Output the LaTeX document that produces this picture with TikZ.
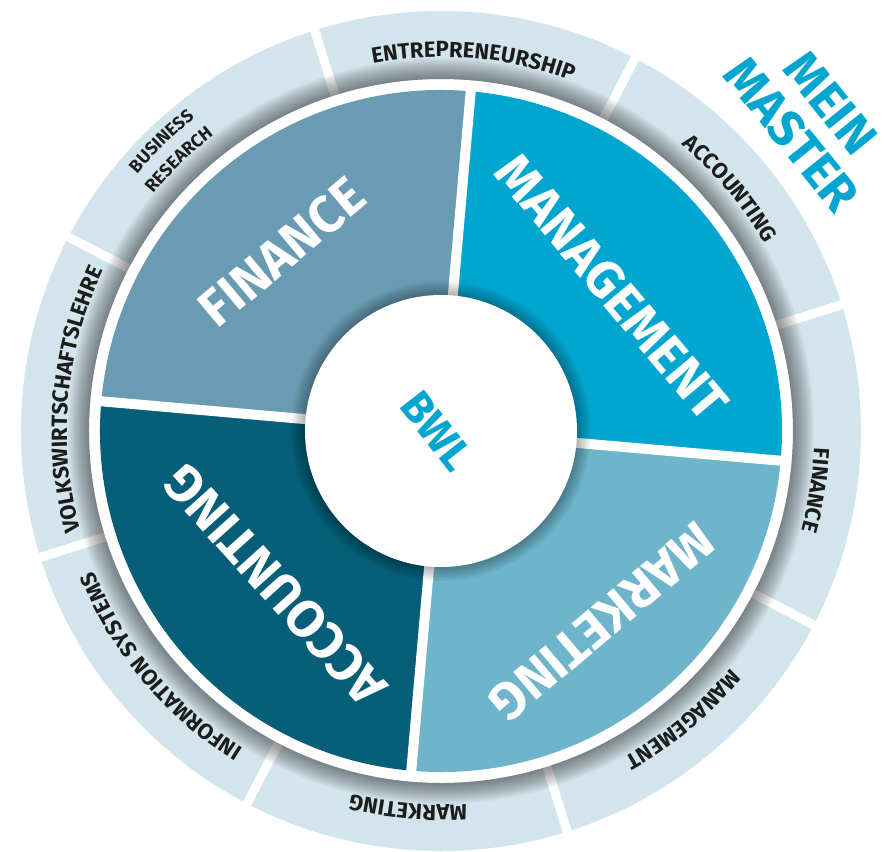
\documentclass[tikz,border=0pt]{standalone}
\usepackage{fontspec}
\setmainfont{Fira Sans}
\usetikzlibrary{decorations.text}
\definecolor{finc}{RGB}{105,156,179}
\definecolor{mgmt}{RGB}{0,166,208}
\definecolor{mkt}{RGB}{110,180,202}
\definecolor{acc}{RGB}{6,94,120}
\definecolor{ringc}{RGB}{211,229,236}
\definecolor{ringtxt}{RGB}{28,28,28}
\newcommand\ringfont{\fontsize{22}{22}\selectfont\bfseries\color{ringtxt}}
\newcommand\smallringfont{\fontsize{18}{18}\selectfont\bfseries\color{ringtxt}}
\tikzset{
  biglabel/.style={text=white, inner sep=0pt, font=\fontsize{52}{52}\selectfont\bfseries},
  bluelabel/.style={text=mgmt, inner sep=0pt, font=\fontsize{44}{44}\selectfont\bfseries},
  masterlabel/.style={text=mgmt, inner sep=0pt, align=center, font=\fontsize{50}{50}\selectfont\bfseries},
  gapline/.style={white, line width=9pt},
  sepline/.style={white, line width=10pt}
}
\begin{document}
\begin{tikzpicture}[x=1pt,y=1pt]
\useasboundingbox (-441,-421) rectangle (446,431);
\fill[white] (-441,-421) rectangle (446,431);
\coordinate (c) at (0,0);
% outer ring
\fill[ringc, even odd rule] (c) circle[radius=420] (c) circle[radius=352];
\foreach \a in {17.5,62.5,107.5,152.5,197.5,242.5,287.5,332.5}
  \draw[gapline] (\a:346) -- (\a:426);
% ring inner shadow
\foreach \k in {1,...,14}
  \fill[black, opacity=0.035, even odd rule] (c) circle[radius={352+1.5*\k}] (c) circle[radius=352];
% quadrants
\fill[finc] (c) -- (85:341) arc[start angle=85, end angle=175, radius=341] -- cycle;
\fill[acc] (c) -- (175:341) arc[start angle=175, end angle=265, radius=341] -- cycle;
\fill[mkt] (c) -- (265:341) arc[start angle=265, end angle=355, radius=341] -- cycle;
\fill[mgmt] (c) -- (355:341) arc[start angle=355, end angle=445, radius=341] -- cycle;
\foreach \a in {85,175,265,355}
  \draw[sepline] (c) -- (\a:346);
% centre shadow
\foreach \k in {1,...,10}
  \fill[black, opacity=0.03] (c) circle[radius={136+1.4*\k}];
\fill[white] (c) circle[radius=136];
% quadrant labels
\node[biglabel, rotate=40] (finance) at (-159,179) {FINANCE};
\node[biglabel, rotate=-50] (management) at (171,144) {MANAGEMENT};
\node[biglabel, rotate=-140] (marketing) at (161,-191) {MARKETING};
\node[biglabel, rotate=132] (accounting) at (-166,-154) {ACCOUNTING};
\node[bluelabel, rotate=-52] (bwl) at (-4,0) {BWL};
\node[masterlabel, rotate=-51] (master) at (370,312) {MEIN\\MASTER};
% ring labels
\path[decorate, decoration={text along path, text align=center, text={|\ringfont|ENTREPRENEURSHIP}}]
  (112:374) arc[start angle=112, end angle=58, radius=374];
\path[decorate, decoration={text along path, text align=center, text={|\ringfont|ACCOUNTING}}]
  (67:374) arc[start angle=67, end angle=13, radius=374];
\path[decorate, decoration={text along path, text align=center, text={|\ringfont|FINANCE}}]
  (18:374) arc[start angle=18, end angle=-36, radius=374];
\path[decorate, decoration={text along path, text align=center, text={|\ringfont|MANAGEMENT}}]
  (-23:374) arc[start angle=-23, end angle=-77, radius=374];
\path[decorate, decoration={text along path, text align=center, text={|\ringfont|MARKETING}}]
  (-68:374) arc[start angle=-68, end angle=-122, radius=374];
\path[decorate, decoration={text along path, text align=center, text={|\ringfont|INFORMATION SYSTEMS}}]
  (-113:374) arc[start angle=-113, end angle=-167, radius=374];
\path[decorate, decoration={text along path, text align=center, text={|\ringfont|VOLKSWIRTSCHAFTSLEHRE}}]
  (205:374) arc[start angle=205, end angle=145, radius=374];
\path[decorate, decoration={text along path, text align=center, text={|\smallringfont|BUSINESS}}]
  (161:398) arc[start angle=161, end angle=107, radius=398];
\path[decorate, decoration={text along path, text align=center, text={|\smallringfont|RESEARCH}}]
  (161:373) arc[start angle=161, end angle=107, radius=373];
\end{tikzpicture}
\end{document}
